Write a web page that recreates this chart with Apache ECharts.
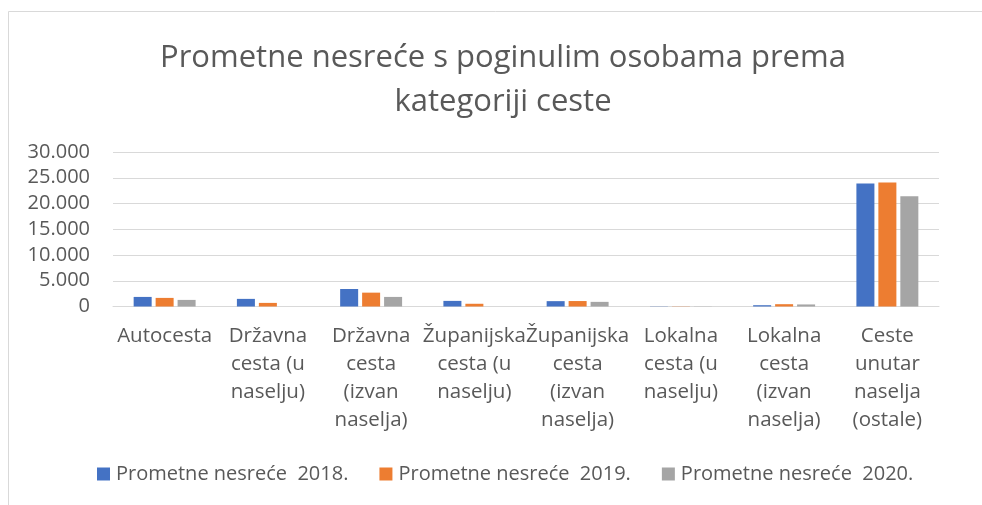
<!DOCTYPE html>
<html lang="hr">
  <head>
    <meta charset="UTF-8" />
    <title>Prometne nesreće</title>
    <script src="https://cdn.jsdelivr.net/npm/echarts@6.0.0/dist/echarts.min.js"></script>
    <style>
      html, body { margin: 0; padding: 0; background: #fff; }
    </style>
  </head>
  <body>
    <div id="main" style="width: 982px; height: 505px"></div>
    <script type="text/javascript">
      // categories (wrapped the way the original shows them)
      let categories = [
        "Autocesta",
        "Državna\ncesta (u\nnaselju)",
        "Državna\ncesta\n(izvan\nnaselja)",
        "Županijska\ncesta (u\nnaselju)",
        "Županijska\ncesta\n(izvan\nnaselja)",
        "Lokalna\ncesta (u\nnaselju)",
        "Lokalna\ncesta\n(izvan\nnaselja)",
        "Ceste\nunutar\nnaselja\n(ostale)",
      ]
      let seriesNames = ["Prometne nesreće  2018.", "Prometne nesreće  2019.", "Prometne nesreće  2020."]
      let data2018 = [1860, 1480, 3400, 1090, 1040, 40, 250, 23900]
      let data2019 = [1670, 700, 2690, 530, 1060, 40, 450, 24090]
      let data2020 = [1280, 0, 1860, 0, 900, 30, 400, 21430]
      let colors = ["#4472c4", "#ed7d31", "#a5a5a5"]

      let textColor = "#595959"
      let font = "'Open Sans', sans-serif"

      let myChart = echarts.init(document.getElementById("main"))

      let allData = [data2018, data2019, data2020]
      let series = allData.map((d, i) => ({
        name: seriesNames[i],
        type: "bar",
        data: d,
        barGap: "22%",
        barCategoryGap: "40%",
        itemStyle: { color: colors[i] },
      }))

      let options = {
        animation: false,
        backgroundColor: "#fff",
        textStyle: { fontFamily: font },
        title: {
          text: "Prometne nesreće s poginulim osobama prema\nkategoriji ceste",
          left: 498,
          textAlign: "center",
          top: 31,
          textStyle: {
            fontFamily: font,
            fontSize: 31,
            fontWeight: "normal",
            color: textColor,
            lineHeight: 44,
          },
        },
        graphic: [
          {
            type: "rect",
            shape: { x: 8.5, y: 11.5, width: 1100, height: 600 },
            style: { fill: null, stroke: "#d9d9d9", lineWidth: 1 },
            silent: true,
          },
        ],
        legend: {
          top: 459,
          left: 92,
          itemWidth: 13,
          itemHeight: 13,
          itemGap: 31,
          icon: "rect",
          textStyle: { fontFamily: font, fontSize: 20, color: textColor, padding: [0, 0, 0, 1] },
          data: seriesNames,
        },
        grid: { left: 113, right: 43, top: 152, height: 154.5, containLabel: false },
        xAxis: {
          type: "category",
          data: categories,
          axisLine: { lineStyle: { color: "#d9d9d9", width: 1 } },
          axisTick: { show: false },
          axisLabel: {
            interval: 0,
            color: textColor,
            fontFamily: font,
            fontSize: 20.5,
            lineHeight: 28,
            margin: 16,
            verticalAlign: "top",
          },
        },
        yAxis: {
          type: "value",
          min: 0,
          max: 30000,
          interval: 5000,
          axisLine: { show: false },
          axisTick: { show: false },
          splitLine: { lineStyle: { color: "#d9d9d9", width: 1 } },
          axisLabel: {
            color: textColor,
            fontFamily: font,
            fontSize: 20,
            margin: 23,
            formatter: (v) => (v === 0 ? "0" : (v / 1000).toFixed(0) + ".000"),
          },
        },
        series: series,
      }

      myChart.setOption(options)
    </script>
  </body>
</html>
